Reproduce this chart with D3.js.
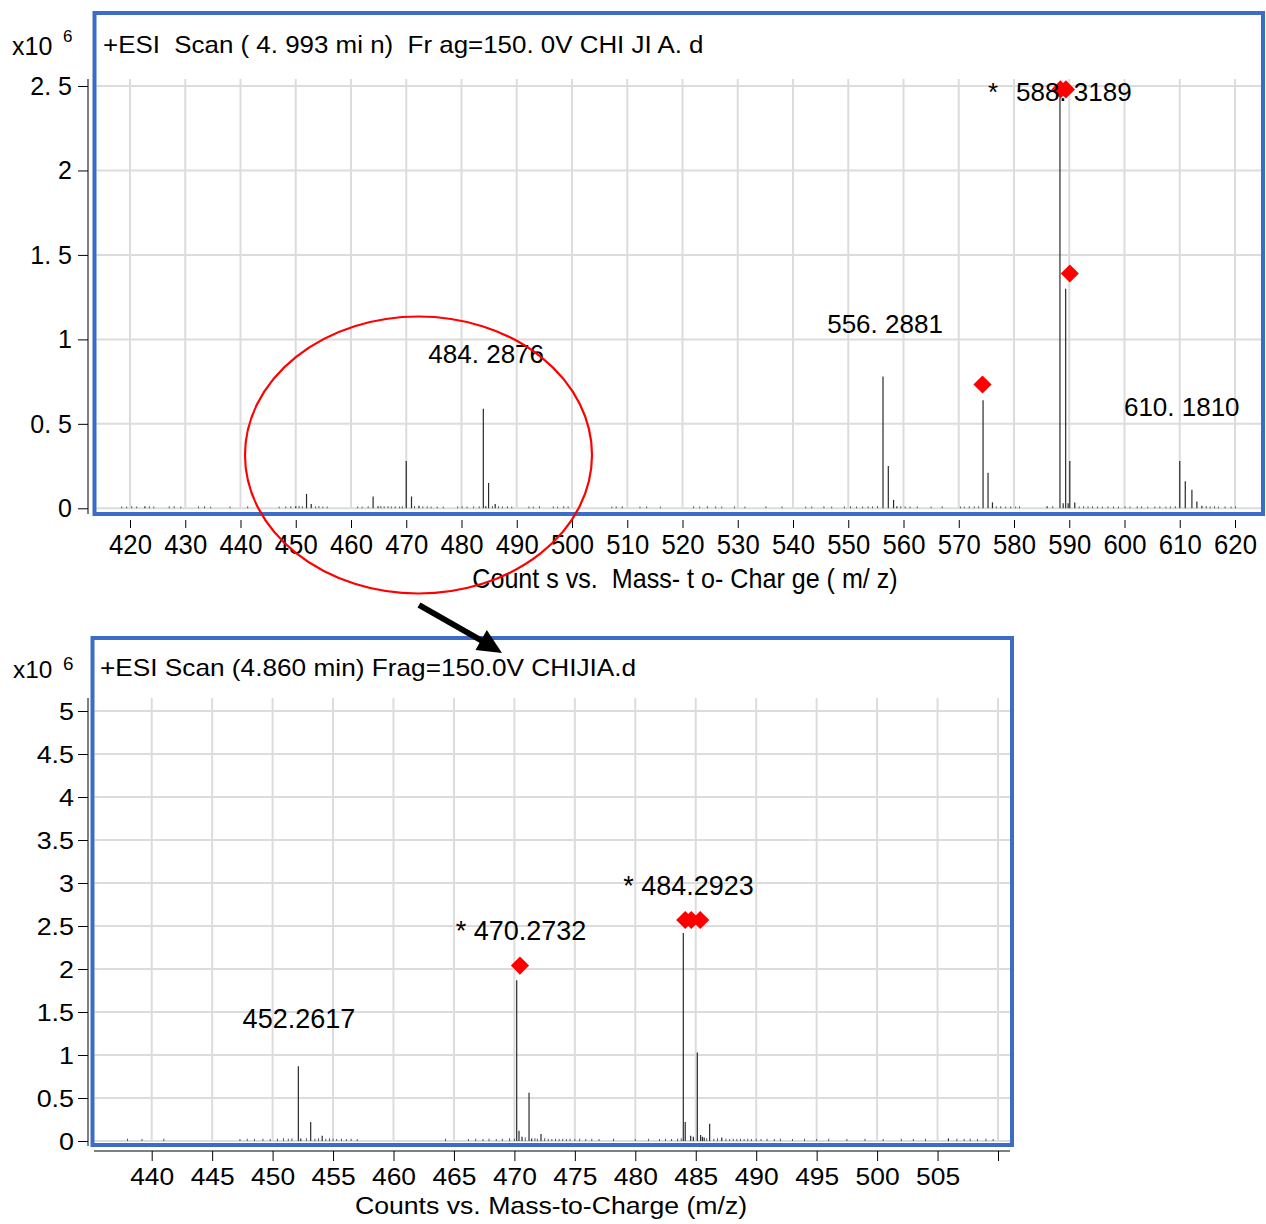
<!DOCTYPE html>
<html>
<head>
<meta charset="utf-8">
<script src="https://cdn.jsdelivr.net/npm/d3@7"></script>
<style>
  html, body { margin: 0; padding: 0; background: #fff; }
  svg { display: block; font-family: "Liberation Sans", Arial, sans-serif; }
  text { white-space: pre; fill: #000; }
</style>
</head>
<body>
<svg id="chart" width="1266" height="1224"></svg>
<script>
// ---------- data (counts in units of 1e6) ----------
const topXTicks = [420, 430, 440, 450, 460, 470, 480, 490, 500, 510, 520, 530, 540, 550, 560, 570, 580, 590, 600, 610, 620];
const topYTicks = [0, 0.5, 1, 1.5, 2, 2.5];
const topYTickLabels = ["0", "0. 5", "1", "1. 5", "2", "2. 5"];

const topPeakMz = [422.7, 450.0, 451.95, 452.8, 464.0, 464.9, 470.0, 470.95, 472.3, 483.95, 484.4, 484.9, 486.1,
  556.29, 557.25, 558.2, 558.8, 574.4, 575.3, 576.1, 586.0, 588.32, 588.9, 589.35, 589.8, 590.1, 591.0,
  610.0, 611.0, 612.2, 613.1, 614.0];
const topPeakCounts = [0.012, 0.012, 0.085, 0.025, 0.07, 0.012, 0.28, 0.07, 0.015, 0.59, 0.012, 0.15, 0.025,
  0.78, 0.25, 0.05, 0.012, 0.64, 0.21, 0.035, 0.012, 2.43, 0.03, 1.30, 0.03, 0.28, 0.035,
  0.28, 0.16, 0.11, 0.04, 0.015];

const topNoiseMz = [418.5, 419.4, 420.3, 421.2, 423.5, 424.3, 427.1, 428.0, 429.2, 432.4, 433.5, 434.6, 438.1, 441.3,
  447.0, 448.2, 449.1, 450.6, 451.2, 453.6, 454.2, 454.9, 455.7, 461.2, 462.0, 463.1, 465.4, 466.0, 466.7, 467.3,
  468.0, 468.8, 469.3, 471.5, 473.0, 473.8, 474.5, 475.6, 476.7, 479.3, 480.1, 481.0, 482.2, 483.2, 485.6, 486.7,
  487.4, 488.3, 489.1, 492.2, 493.0, 494.1, 496.6, 497.4, 498.5, 499.3, 507.2, 508.0, 509.1, 512.3, 513.5, 516.0,
  522.0, 523.1, 524.5, 526.0, 527.1, 529.4, 531.3, 535.1, 538.0, 542.3, 543.4, 545.6, 547.0, 549.3, 550.4, 551.5,
  552.6, 553.6, 554.4, 555.3, 559.5, 560.3, 561.2, 562.5, 565.0, 567.0, 570.3, 571.0, 571.9, 572.8, 573.6, 576.8,
  577.6, 578.5, 579.4, 580.3, 581.0, 587.0, 591.8, 592.6, 593.4, 594.2, 595.1, 596.0, 597.0, 598.0, 598.9, 600.1,
  601.0, 602.3, 603.1, 604.2, 605.5, 606.4, 607.5, 608.3, 609.2, 614.8, 615.5, 616.3, 617.0, 618.2, 619.3, 620.1];
const topNoiseCounts = [0.005, 0.004, 0.006, 0.005, 0.006, 0.004, 0.005, 0.006, 0.004, 0.005, 0.006, 0.004, 0.005, 0.006,
  0.004, 0.005, 0.006, 0.008, 0.006, 0.005, 0.007, 0.005, 0.004, 0.005, 0.004, 0.006, 0.008, 0.006, 0.007, 0.005,
  0.006, 0.005, 0.006, 0.007, 0.005, 0.006, 0.004, 0.005, 0.004, 0.005, 0.006, 0.004, 0.005, 0.006, 0.007, 0.006,
  0.005, 0.006, 0.004, 0.005, 0.004, 0.006, 0.005, 0.004, 0.006, 0.005, 0.004, 0.005, 0.006, 0.004, 0.005, 0.004,
  0.005, 0.004, 0.006, 0.005, 0.004, 0.005, 0.004, 0.006, 0.005, 0.004, 0.005, 0.006, 0.004, 0.005, 0.006, 0.005,
  0.004, 0.006, 0.005, 0.007, 0.006, 0.005, 0.004, 0.005, 0.004, 0.006, 0.005, 0.004, 0.006, 0.005, 0.006, 0.005,
  0.006, 0.004, 0.005, 0.004, 0.005, 0.006, 0.005, 0.006, 0.005, 0.006, 0.005, 0.004, 0.006, 0.005, 0.004, 0.005,
  0.004, 0.006, 0.005, 0.004, 0.005, 0.006, 0.004, 0.005, 0.006, 0.007, 0.005, 0.006, 0.004, 0.005, 0.004, 0.005];

const topMarkerMz = [588.4, 589.4, 590.1, 574.3];
const topMarkerCounts = [2.48, 2.48, 1.39, 0.733];

const topLabels = ["484. 2876", "556. 2881", "588. 3189", "610. 1810"];
const topLabelMz = [484.29, 556.29, 588.32, 610.18];

const botXTicks = [440, 445, 450, 455, 460, 465, 470, 475, 480, 485, 490, 495, 500, 505, 510];
const botXTickLabels = ["440", "445", "450", "455", "460", "465", "470", "475", "480", "485", "490", "495", "500", "505", ""];
const botYTicks = [0, 0.5, 1, 1.5, 2, 2.5, 3, 3.5, 4, 4.5, 5];
const botYTickLabels = ["0", "0.5", "1", "1.5", "2", "2.5", "3", "3.5", "4", "4.5", "5"];

const botPeakMz = [452.13, 452.33, 453.15, 454.1, 470.19, 470.38, 470.63, 471.21, 471.43, 472.2,
  483.97, 484.13, 484.58, 484.8, 485.13, 485.4, 485.55, 485.7, 486.15, 487.15, 505.9];
const botPeakCounts = [0.87, 0.03, 0.22, 0.06, 1.87, 0.12, 0.05, 0.56, 0.03, 0.08,
  2.42, 0.22, 0.06, 0.05, 1.03, 0.07, 0.05, 0.04, 0.2, 0.04, 0.03];

const botNoiseMz = [438.0, 439.2, 441.0, 447.3, 447.9, 448.5, 449.2, 449.8, 450.4, 450.9, 451.3, 451.6, 452.8, 453.5,
  453.8, 454.4, 454.7, 455.0, 455.3, 455.7, 456.1, 456.5, 457.0, 464.3, 466.2, 466.8, 467.4, 467.9, 468.5, 469.0,
  469.6, 470.0, 470.9, 471.7, 471.9, 472.5, 472.8, 473.1, 473.4, 473.7, 474.0, 474.3, 474.6, 475.0, 475.4, 475.9,
  476.4, 477.0, 478.2, 480.0, 481.1, 482.0, 482.5, 483.0, 483.5, 483.8, 485.9, 486.5, 486.8, 487.5, 487.8, 488.1,
  488.4, 488.7, 489.0, 489.3, 489.6, 490.0, 490.4, 490.9, 491.5, 492.0, 493.0, 494.0, 495.0, 496.0, 497.5, 499.0,
  500.5, 502.0, 503.0, 504.0, 506.6, 507.2, 507.7, 508.3, 509.0, 509.6];
const botNoiseCounts = [0.015, 0.012, 0.015, 0.012, 0.015, 0.012, 0.015, 0.012, 0.015, 0.02, 0.015, 0.02, 0.02, 0.015,
  0.02, 0.015, 0.02, 0.015, 0.012, 0.015, 0.012, 0.015, 0.012, 0.015, 0.012, 0.015, 0.012, 0.015, 0.012, 0.015,
  0.02, 0.015, 0.03, 0.02, 0.015, 0.02, 0.015, 0.012, 0.015, 0.012, 0.015, 0.012, 0.015, 0.012, 0.015, 0.012,
  0.015, 0.012, 0.015, 0.012, 0.015, 0.012, 0.015, 0.012, 0.015, 0.02, 0.02, 0.015, 0.02, 0.015, 0.012, 0.015,
  0.012, 0.015, 0.012, 0.015, 0.012, 0.015, 0.012, 0.015, 0.012, 0.015, 0.012, 0.015, 0.012, 0.015, 0.012, 0.015,
  0.012, 0.015, 0.012, 0.015, 0.015, 0.012, 0.015, 0.012, 0.015, 0.012];

const botMarkerMz = [470.46, 484.13, 484.63, 485.37];
const botMarkerCounts = [2.04, 2.57, 2.57, 2.57];

const botLabels = ["452.2617", "* 470.2732", "* 484.2923"];
const botLabelMz = [452.26, 470.27, 484.29];

// ---------- setup ----------
const BLUE = "#3b6cc7";
const GRID = "#dcdcdc";
const svg = d3.select("#chart");
svg.append("rect").attr("width", 1266).attr("height", 1224).attr("fill", "#fff");

// text with horizontal squeeze/stretch, the source image is not uniformly scaled
function label(str, x, y, size, sx, anchor) {
  return svg.append("text")
    .attr("transform", `translate(${x},${y}) scale(${sx},1)`)
    .attr("font-size", size)
    .attr("text-anchor", anchor || "start")
    .text(str);
}

const diamond = d3.symbol().type(d3.symbolSquare).size(165);

function drawPanel(p) {
  const g = svg.append("g");

  // grid
  g.append("g").selectAll("line").data(p.yTicks).join("line")
    .attr("x1", p.box[0] + 2).attr("x2", p.box[2] - 2)
    .attr("y1", d => p.y(d)).attr("y2", d => p.y(d))
    .attr("stroke", GRID).attr("stroke-width", 2);
  g.append("g").selectAll("line").data(p.xTicks).join("line")
    .attr("x1", d => p.x(d)).attr("x2", d => p.x(d))
    .attr("y1", p.gridTop).attr("y2", p.y(0))
    .attr("stroke", GRID).attr("stroke-width", 2);

  // noise and peaks
  g.append("g").selectAll("line").data(d3.zip(p.noiseMz, p.noiseCounts)).join("line")
    .attr("x1", d => p.x(d[0])).attr("x2", d => p.x(d[0]))
    .attr("y1", p.y(0)).attr("y2", d => p.y(d[1]) - 1)
    .attr("stroke", "#555").attr("stroke-width", 1);
  g.append("g").selectAll("line").data(d3.zip(p.peakMz, p.peakCounts)).join("line")
    .attr("x1", d => p.x(d[0])).attr("x2", d => p.x(d[0]))
    .attr("y1", p.y(0)).attr("y2", d => p.y(d[1]))
    .attr("stroke", "#2a2a2a").attr("stroke-width", 1.2);

  // frame
  g.append("rect")
    .attr("x", p.box[0]).attr("y", p.box[1])
    .attr("width", p.box[2] - p.box[0]).attr("height", p.box[3] - p.box[1])
    .attr("fill", "none").attr("stroke", BLUE).attr("stroke-width", 4);

  // markers
  g.append("g").selectAll("path").data(d3.zip(p.markerMz, p.markerCounts)).join("path")
    .attr("d", diamond)
    .attr("transform", d => `translate(${p.x(d[0])},${p.y(d[1])}) rotate(45)`)
    .attr("fill", "#ff0000");

  // y axis
  const ya = g.append("g").attr("transform", "translate(88,0)")
    .call(d3.axisLeft(p.y).tickValues(p.yTicks).tickSize(10).tickSizeOuter(0)
      .tickFormat((d, i) => p.yTickLabels[i]));
  ya.select(".domain").remove();
  ya.selectAll("text")
    .attr("x", 0).attr("dy", null)
    .attr("transform", `translate(${p.yLab.dx},${p.yLab.dy}) scale(${p.yLab.sx},1)`)
    .attr("font-size", p.yLab.size).attr("font-family", null).style("fill", "#000");
  g.append("line").attr("x1", 88).attr("x2", 88)
    .attr("y1", p.axisTop).attr("y2", p.axisBottom).attr("stroke", "#000");

  // x axis
  const xa = g.append("g").attr("transform", `translate(0,${p.xAxisY})`)
    .call(d3.axisBottom(p.x).tickValues(p.xTicks).tickSize(p.xTickSize).tickSizeOuter(0)
      .tickFormat((d, i) => p.xTickLabels[i]));
  xa.select(".domain").remove();
  xa.selectAll("text")
    .attr("y", 0).attr("dy", null)
    .attr("transform", `translate(0,${p.xLab.dy}) scale(${p.xLab.sx},1)`)
    .attr("font-size", p.xLab.size).attr("font-family", null).style("fill", "#000");
  if (p.xAxisLine) {
    g.append("line").attr("x1", p.xAxisLine[0]).attr("x2", p.xAxisLine[1])
      .attr("y1", p.xAxisY).attr("y2", p.xAxisY).attr("stroke", "#000");
  }
}

// ---------- top panel ----------
const xTop = d3.scaleLinear().domain([420, 620]).range([130, 1235]);
const yTop = d3.scaleLinear().domain([0, 2.5]).range([508.3, 86]);

drawPanel({
  x: xTop, y: yTop, box: [94.5, 13, 1263, 514], gridTop: 79,
  xTicks: topXTicks, xTickLabels: topXTicks.map(String), yTicks: topYTicks, yTickLabels: topYTickLabels,
  peakMz: topPeakMz, peakCounts: topPeakCounts, noiseMz: topNoiseMz, noiseCounts: topNoiseCounts,
  markerMz: topMarkerMz, markerCounts: topMarkerCounts,
  axisTop: 79, axisBottom: 514, xAxisY: 520, xTickSize: 8, xAxisLine: null,
  yLab: { dx: -16, dy: 8.5, sx: 1, size: 25 },
  xLab: { dy: 34, sx: 0.9, size: 28.5 }
});

label("x10", 12, 55, 25, 1);
label("6", 63, 42, 17, 1);
label("+ESI  Scan ( 4. 993 mi n)  Fr ag=150. 0V CHI JI A. d", 103, 53, 24, 1.08);
label("Count s vs.  Mass- t o- Char ge ( m/ z)", 685, 588, 27, 0.93, "middle");

label(topLabels[0], xTop(topLabelMz[0]) + 1, 363, 26, 1, "middle");
label(topLabels[1], xTop(topLabelMz[1]) + 2, 333, 26, 1, "middle");
label("*", xTop(topLabelMz[2]) - 72, 101, 26, 1);
label(topLabels[2], xTop(topLabelMz[2]) - 44, 101, 26, 1);
label(topLabels[3], xTop(topLabelMz[3]) + 1, 416, 26, 1, "middle");

// ---------- bottom panel ----------
const xBot = d3.scaleLinear().domain([440, 510]).range([151.7, 998]);
const yBot = d3.scaleLinear().domain([0, 5]).range([1141, 711]);

drawPanel({
  x: xBot, y: yBot, box: [92.5, 638, 1012, 1145], gridTop: 698,
  xTicks: botXTicks, xTickLabels: botXTickLabels, yTicks: botYTicks, yTickLabels: botYTickLabels,
  peakMz: botPeakMz, peakCounts: botPeakCounts, noiseMz: botNoiseMz, noiseCounts: botNoiseCounts,
  markerMz: botMarkerMz, markerCounts: botMarkerCounts,
  axisTop: 698, axisBottom: 1146, xAxisY: 1151, xTickSize: 10, xAxisLine: [94, 1010],
  yLab: { dx: -14, dy: 8, sx: 1.12, size: 24 },
  xLab: { dy: 34, sx: 1.1, size: 24 }
});

label("x10", 13, 678, 23, 1.06);
label("6", 63, 670, 18, 1.05);
label("+ESI Scan (4.860 min) Frag=150.0V CHIJIA.d", 100, 676, 23, 1.14);
label("Counts vs. Mass-to-Charge (m/z)", 551, 1214, 24, 1.11, "middle");

label(botLabels[0], xBot(botLabelMz[0]) - 1, 1028, 27, 1, "middle");
label(botLabels[1], xBot(botLabelMz[1]) - 62, 940, 27, 1);
label(botLabels[2], xBot(botLabelMz[2]) - 64, 895, 27, 1);

// ---------- annotation: zoom ellipse and arrow ----------
svg.append("ellipse")
  .attr("cx", 418.5).attr("cy", 455).attr("rx", 173.5).attr("ry", 138.5)
  .attr("fill", "none").attr("stroke", "#ff0000").attr("stroke-width", 2.2);

svg.append("line")
  .attr("x1", 419).attr("y1", 605).attr("x2", 484).attr("y2", 642)
  .attr("stroke", "#000").attr("stroke-width", 6);
svg.append("path")
  .attr("d", "M502,653 L475.5,650 L486.8,630 Z")
  .attr("fill", "#000");
</script>
</body>
</html>
